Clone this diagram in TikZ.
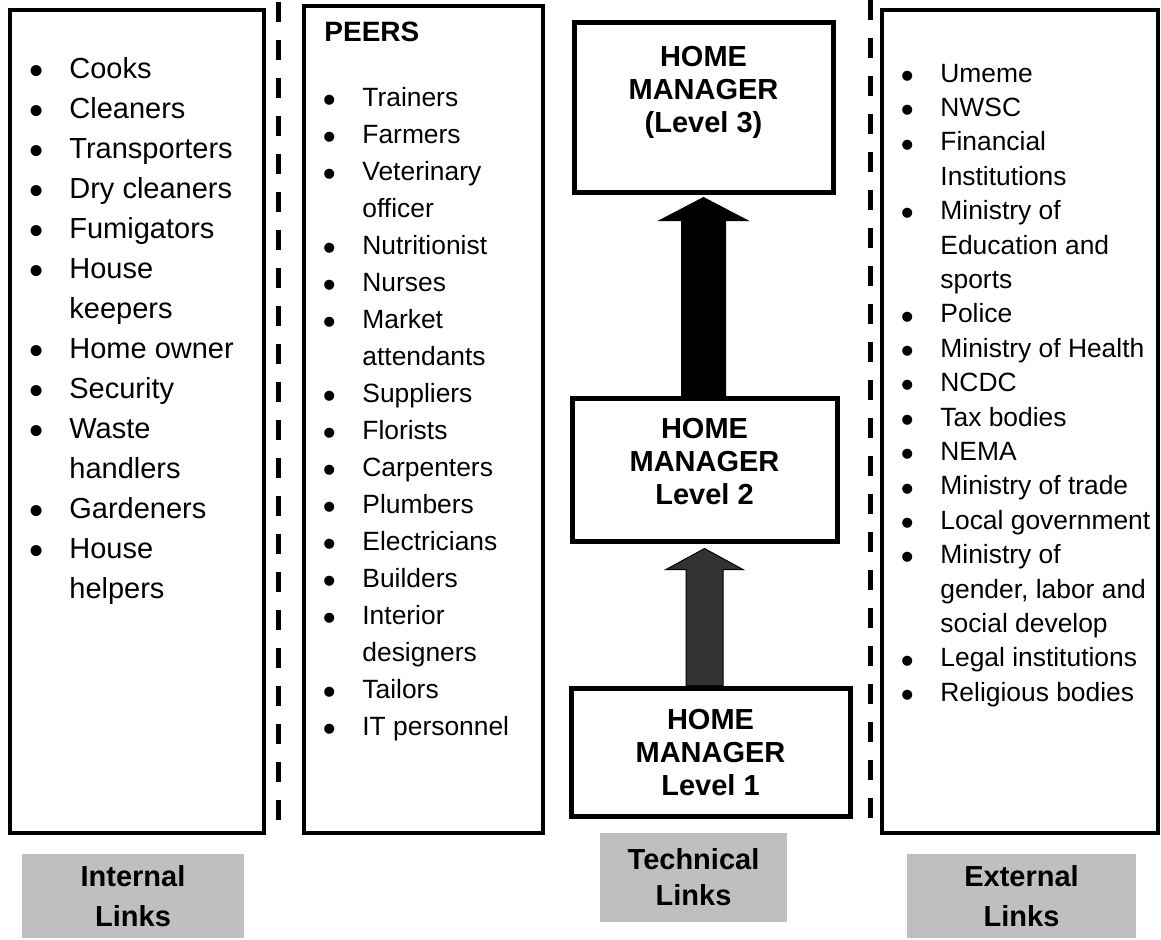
\documentclass[tikz,border=0pt]{standalone}
\usepackage{fontspec}
\usepackage{graphicx}
\setmainfont{Liberation Sans}
\usetikzlibrary{calc,positioning}

\newcommand{\blt}{\makebox[21.5pt][l]{\makebox[10pt]{\raisebox{-0.24em}{\scalebox{1.4}{\textbullet}}}}}

\begin{document}
\begin{tikzpicture}[
  x=0.5pt,y=-0.5pt,
  listbox/.style={draw,line width=2pt,inner sep=0pt},
  levelbox/.style={draw,line width=2.5pt,align=center,inner sep=0pt,
    font=\bfseries\fontsize{14.5}{16.5}\selectfont},
  tagbox/.style={fill=black!25,align=center,inner sep=0pt,
    font=\bfseries\fontsize{14.5}{20}\selectfont},
  listtext/.style={anchor=base west,inner sep=0pt},
  sepline/.style={line width=2.5pt,dash pattern=on 10pt off 9pt},
  blockarrow/.style={draw=black,line width=.5pt,line join=miter}
]
\useasboundingbox (0,0) rectangle (1161,939);

\node[listbox,minimum width=127pt,minimum height=411.5pt] (intbox) at (137,421.5) {};
\node[listbox,minimum width=119.5pt,minimum height=413.5pt] (peerbox) at (423.5,419.5) {};
\node[listbox,minimum width=138pt,minimum height=411.5pt] (extbox) at (1020,421.5) {};

\node[listtext,font=\fontsize{14.5}{20}\selectfont] (intlist)
  at ([shift={(18,70)}]intbox.north west) {\begin{tabular}[t]{@{}l@{}l@{}}
  \blt & Cooks\\ \blt & Cleaners\\ \blt & Transporters\\ \blt & Dry cleaners\\
  \blt & Fumigators\\ \blt & House\\ & keepers\\ \blt & Home owner\\
  \blt & Security\\ \blt & Waste\\ & handlers\\ \blt & Gardeners\\
  \blt & House\\ & helpers
  \end{tabular}};

\node[listtext,font=\bfseries\fontsize{14}{16}\selectfont] (peerhead)
  at ([shift={(22,37)}]peerbox.north west) {PEERS};
\node[listtext,font=\fontsize{13.2}{18.5}\selectfont] (peerlist)
  at ([shift={(-5,65)}]peerhead.base west) {\begin{tabular}[t]{@{}l@{}l@{}}
  \blt & Trainers\\ \blt & Farmers\\ \blt & Veterinary\\ & officer\\
  \blt & Nutritionist\\ \blt & Nurses\\ \blt & Market\\ & attendants\\
  \blt & Suppliers\\ \blt & Florists\\ \blt & Carpenters\\ \blt & Plumbers\\
  \blt & Electricians\\ \blt & Builders\\ \blt & Interior\\ & designers\\
  \blt & Tailors\\ \blt & IT personnel
  \end{tabular}};

\node[listtext,font=\fontsize{13.2}{17.2}\selectfont] (extlist)
  at ([shift={(17,74)}]extbox.north west) {\begin{tabular}[t]{@{}l@{}l@{}}
  \blt & Umeme\\ \blt & NWSC\\ \blt & Financial\\ & Institutions\\
  \blt & Ministry of\\ & Education and\\ & sports\\ \blt & Police\\
  \blt & Ministry of Health\\ \blt & NCDC\\ \blt & Tax bodies\\ \blt & NEMA\\
  \blt & Ministry of trade\\ \blt & Local government\\ \blt & Ministry of\\
  & gender, labor and\\ & social develop\\ \blt & Legal institutions\\
  \blt & Religious bodies
  \end{tabular}};

\node[levelbox,minimum width=129.5pt,minimum height=85pt] (lvl3) at (703.5,107)
  {HOME\\MANAGER\\(Level 3)\\[1.5pt]\mbox{}};
\node[levelbox,minimum width=132.5pt,minimum height=71.5pt] (lvl2) at (704.5,469.5)
  {HOME\\MANAGER\\Level 2\\[-8.5pt]\mbox{}};
\node[levelbox,minimum width=139.5pt,minimum height=64pt] (lvl1) at (710.5,752)
  {HOME\\MANAGER\\Level 1};

\node[tagbox,minimum width=111pt,minimum height=42pt] (inttag) at (133,896) {Internal\\Links};
\node[tagbox,minimum width=93.5pt,minimum height=44.5pt,
  font=\bfseries\fontsize{14.5}{18}\selectfont] (techtag) at (693.5,877.5) {Technical\\Links};
\node[tagbox,minimum width=114.5pt,minimum height=42pt] (exttag) at (1021.5,896) {External\\Links};

\coordinate (sepAtop) at (278,2);
\coordinate (sepAbot) at (278,822);
\coordinate (sepBtop) at (870,0);
\coordinate (sepBbot) at (870,835);
\draw[sepline] (sepAtop) -- (sepAbot);
\draw[sepline] (sepBtop) -- (sepBbot);

\draw[blockarrow,fill=black] let \p1=(lvl3.south), \p2=(lvl2.north) in
  (\x1,\y1-1.5pt) -- (\x1+22pt,\y1-13pt) -- (\x1+11pt,\y1-13pt) -- (\x1+11pt,\y2)
  -- (\x1-11pt,\y2) -- (\x1-11pt,\y1-13pt) -- (\x1-22pt,\y1-13pt) -- cycle;
\draw[blockarrow,fill=black!80] let \p1=(lvl2.south), \p2=(lvl1.north) in
  (\x1,\y1-2.5pt) -- (\x1+19.25pt,\y1-13pt) -- (\x1+9.25pt,\y1-13pt) -- (\x1+9.25pt,\y2)
  -- (\x1-9.25pt,\y2) -- (\x1-9.25pt,\y1-13pt) -- (\x1-19.25pt,\y1-13pt) -- cycle;
\end{tikzpicture}
\end{document}
